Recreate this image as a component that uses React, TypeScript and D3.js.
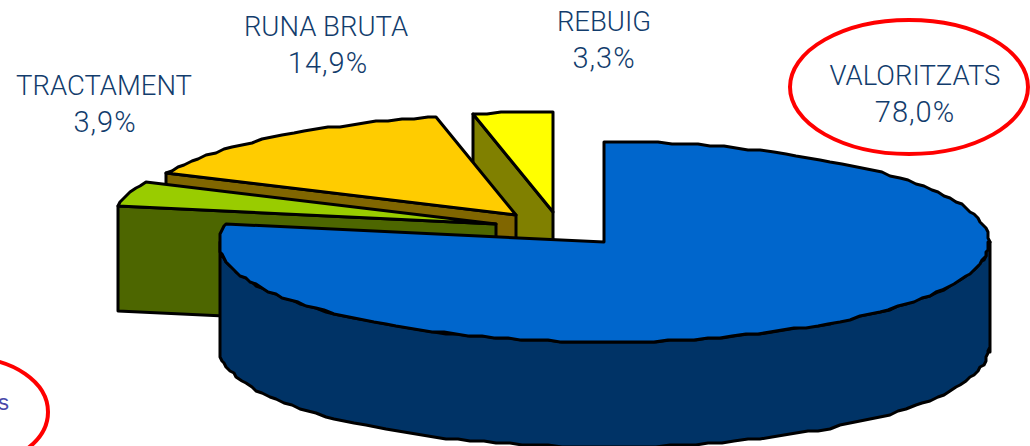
import React from "react";
import * as d3 from "d3";

const categories = ["VALORITZATS", "TRACTAMENT", "RUNA BRUTA", "REBUIG"];
const values = [78.0, 3.9, 14.9, 3.3];
const valueLabels = ["78,0%", "3,9%", "14,9%", "3,3%"];
const topColors = ["#0066CC", "#99CC00", "#FFCC00", "#FFFF00"];
const wallColors = ["#003366", "#4D6600", "#806600", "#808000"];
const apexX = [604, 496, 516, 553];
const apexY = [242, 224, 215, 212];
const labelX = [915, 104, 326, 604];
const valueX = [915, 105, 328, 604];
const labelY = [85, 95, 36, 31];

const W = 1030, H = 446;
const RX = 385, RY = 100, DEPTH = 105, CORNER = 5;
const FONT = "Roboto,'Liberation Sans',sans-serif";

const arcs = d3.pie<number>().sort(null)(values);
const q = (v: number) => Math.round(v / 2) * 2;
const pt = (i: number, a: number): [number, number] => [
  apexX[i] + q(RX * Math.sin(a)),
  apexY[i] + q(-RY * Math.cos(a)),
];
const arcPts = (i: number, a0: number, a1: number, step = 0.035) =>
  d3.range(a0, a1, step)
    .concat(a1, [Math.PI / 2, Math.PI].filter((a) => a > a0 && a < a1))
    .sort(d3.ascending)
    .map((a) => pt(i, a));
const line = d3.line();

export default function App() {
  const order = [3, 2, 1, 0];
  return (
    <svg width={W} height={H} viewBox={`0 0 ${W} ${H}`} style={{ position: "absolute", left: 0, top: 0, background: "#fff" }}>
      <ellipse cx={-30} cy={412} rx={78} ry={54} fill="none" stroke="#FF0000" strokeWidth={4} />
      <text x={9} y={410} textAnchor="end" fontFamily="'Liberation Sans',sans-serif" fontSize={22} fill="#4A4AAA">s</text>

      {order.map((i) => {
        const { startAngle: s, endAngle: e } = arcs[i];
        const apex: [number, number] = [apexX[i], apexY[i]];
        const top = arcPts(i, s, e);
        const stroke = { stroke: "#000", strokeWidth: 3, strokeLinejoin: "round" as const };
        let wall: [number, number][];
        if (i === 0) {
          const front = arcPts(i, Math.PI / 2, Math.PI * 1.5);
          const lower = front.slice().reverse().map(([x, y]) => [x, y + DEPTH] as [number, number]);
          const [fx, fy] = front[0];
          const [lx, ly] = front[front.length - 1];
          wall = [...front, [lx, ly + DEPTH + CORNER], ...lower, [fx, fy + DEPTH + CORNER]];
        } else {
          const cut = pt(i, s);
          wall = [cut, apex, [apex[0], apex[1] + DEPTH], [cut[0], cut[1] + DEPTH]];
        }
        return (
          <g key={categories[i]}>
            <path d={line(wall) + "Z"} fill={wallColors[i]} {...stroke} />
            <path d={line([apex, ...top]) + "Z"} fill={topColors[i]} {...stroke} />
          </g>
        );
      })}

      <ellipse cx={909} cy={87} rx={119} ry={67} fill="none" stroke="#FF0000" strokeWidth={4} />
      {categories.map((c, i) => (
        <text key={c} textAnchor="middle" fontFamily={FONT} fontWeight={300} fill="#123C6C">
          <tspan x={labelX[i]} y={labelY[i]} fontSize={27.5}>{c}</tspan>
          <tspan x={valueX[i]} y={labelY[i] + 37} fontSize={29} letterSpacing={1}>{valueLabels[i]}</tspan>
        </text>
      ))}
    </svg>
  );
}
